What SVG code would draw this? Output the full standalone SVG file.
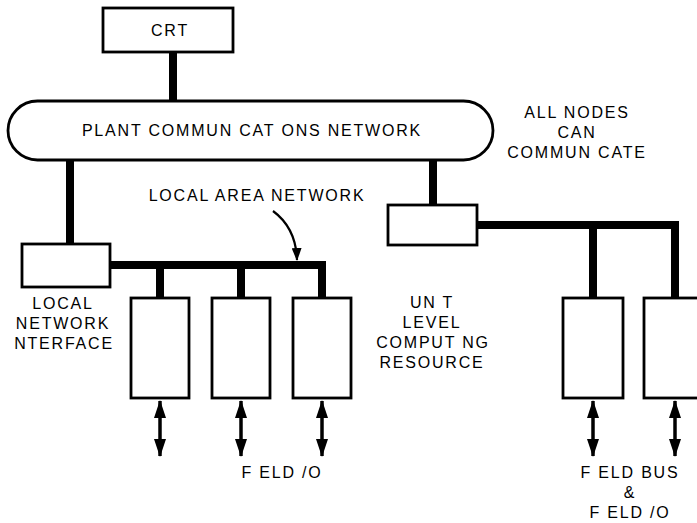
<svg xmlns="http://www.w3.org/2000/svg" width="697" height="523" viewBox="0 0 697 523">
  <style>
    .box { fill: #ffffff; stroke: #000000; stroke-width: 2.8; }
    .bus { fill: none; stroke: #000000; stroke-width: 8; stroke-linejoin: miter; stroke-linecap: butt; }
    .io { stroke: #000000; stroke-width: 3.5; marker-start: url(#head); marker-end: url(#head); }
    .lbl { font-family: "Liberation Sans", Arial, Helvetica, sans-serif; font-size: 16px; letter-spacing: 1.8px; fill: #000000; text-anchor: middle; }
  </style>
  <defs>
    <marker id="head" markerUnits="userSpaceOnUse" markerWidth="18" markerHeight="12" viewBox="0 0 18 12" refX="17" refY="6" orient="auto-start-reverse">
      <path d="M0,0 L18,6 L0,12 Z" fill="#000000"/>
    </marker>
    <marker id="head2" markerUnits="userSpaceOnUse" markerWidth="13" markerHeight="10" viewBox="0 0 13 10" refX="12" refY="5" orient="auto">
      <path d="M0,0 L13,5 L0,10 Z" fill="#000000"/>
    </marker>
  </defs>
  <rect width="697" height="523" fill="#ffffff"/>

  <g id="connectors">
    <path class="bus" d="M173,52 V101"/>
    <path class="bus" d="M70,160 V244"/>
    <path class="bus" d="M110,265 H322 V298"/>
    <path class="bus" d="M160,265 V298"/>
    <path class="bus" d="M241,265 V298"/>
    <path class="bus" d="M433,160 V205"/>
    <path class="bus" d="M477,225 H675 V298"/>
    <path class="bus" d="M593,225 V298"/>
    <line class="io" x1="160" y1="401" x2="160" y2="456"/>
    <line class="io" x1="241" y1="401" x2="241" y2="456"/>
    <line class="io" x1="322" y1="401" x2="322" y2="456"/>
    <line class="io" x1="593" y1="401" x2="593" y2="456"/>
    <line class="io" x1="675" y1="401" x2="675" y2="456"/>
    <path d="M273,211 Q296,228 297,260" fill="none" stroke="#000000" stroke-width="2.2" marker-end="url(#head2)"/>
  </g>

  <g id="crt">
    <rect class="box" x="103" y="8" width="130" height="44"/>
    <text class="lbl" x="170" y="36">CRT</text>
  </g>
  <g id="plant-network">
    <rect class="box" x="8" y="101" width="485" height="59" rx="29.5" ry="29.5"/>
    <text class="lbl" x="252" y="136">PLANT COMMUN CAT ONS NETWORK</text>
  </g>
  <g id="all-nodes-note">
    <text class="lbl" x="577" y="118">ALL NODES</text>
    <text class="lbl" x="577" y="138">CAN</text>
    <text class="lbl" x="577" y="158">COMMUN CATE</text>
  </g>
  <g id="lan-label">
    <text class="lbl" x="257" y="201">LOCAL AREA NETWORK</text>
  </g>
  <g id="local-network-interface">
    <rect class="box" x="22" y="244" width="88" height="43"/>
    <text class="lbl" x="63" y="309">LOCAL</text>
    <text class="lbl" x="63" y="329">NETWORK</text>
    <text class="lbl" x="64" y="349">NTERFACE</text>
  </g>
  <g id="unit-1">
    <rect class="box" x="131" y="298" width="58" height="100"/>
  </g>
  <g id="unit-2">
    <rect class="box" x="212" y="298" width="58" height="100"/>
  </g>
  <g id="unit-3">
    <rect class="box" x="293" y="298" width="58" height="100"/>
  </g>
  <g id="unit-label">
    <text class="lbl" x="432" y="308">UN T</text>
    <text class="lbl" x="432" y="328">LEVEL</text>
    <text class="lbl" x="433" y="348">COMPUT NG</text>
    <text class="lbl" x="432" y="368">RESOURCE</text>
  </g>
  <g id="field-io-label">
    <text class="lbl" x="282" y="478">F ELD /O</text>
  </g>
  <g id="right-interface">
    <rect class="box" x="388" y="205" width="89" height="40"/>
  </g>
  <g id="unit-4">
    <rect class="box" x="563" y="298" width="60" height="100"/>
  </g>
  <g id="unit-5">
    <rect class="box" x="644" y="298" width="60" height="100"/>
  </g>
  <g id="field-bus-label">
    <text class="lbl" x="630" y="478">F ELD BUS</text>
    <text class="lbl" x="630" y="498">&amp;</text>
    <text class="lbl" x="630" y="518">F ELD /O</text>
  </g>
</svg>
